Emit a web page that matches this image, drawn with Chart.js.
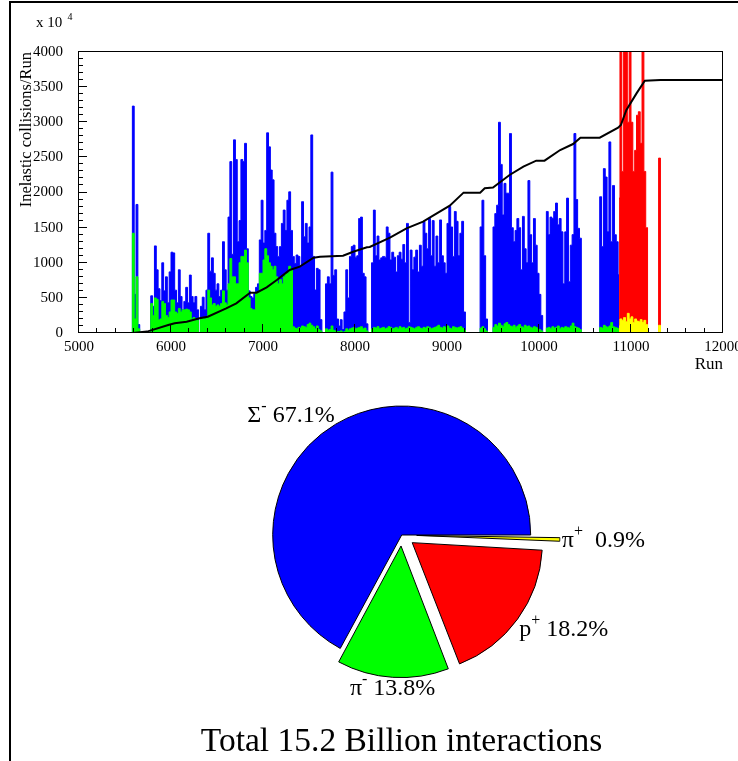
<!DOCTYPE html>
<html lang="en">
<head>
<meta charset="utf-8">
<title>Inelastic collisions per run</title>
<script src="https://cdn.jsdelivr.net/npm/chart.js"></script>
<style>
  html, body { margin: 0; padding: 0; background: #fff; }
  #page { position: relative; width: 738px; height: 761px; overflow: hidden; }
  #frame { position: absolute; left: 9px; top: 1px; width: 800px; height: 800px;
           border-top: 2px solid #000; border-left: 2px solid #000; }
  #runs { position: absolute; left: 0; top: 0; }
  #beams { position: absolute; left: 0; top: 380px; }
</style>
</head>
<body>
<div id="page">
  <div id="frame"></div>
  <canvas id="runs" width="760" height="380"></canvas>
  <canvas id="beams" width="738" height="381"></canvas>
</div>

<script>
// histogram bins are 20 runs wide
const binWidth = 20;

// Sigma- beam, first bin starts at run 5500
const sigmaStart = 5500;
const sigmaValues = [
  0, 0, 0, 0, 3230, 550, 1830, 120, 0, 0,
  0, 0, 0, 0, 530, 380, 1240, 900, 630, 460,
  1000, 600, 800, 430, 870, 1150, 1140, 610, 430, 900,
  520, 330, 450, 650, 430, 825, 520, 430, 520, 330,
  0, 380, 510, 330, 610, 1420, 880, 1070, 850, 610,
  700, 520, 610, 1300, 900, 610, 1650, 2440, 1120, 2750,
  2470, 1300, 1600, 2470, 2440, 2700, 1200, 600, 520, 500,
  560, 650, 700, 1325, 1890, 1280, 1460, 2850, 2650, 2320,
  2180, 1420, 1230, 1090, 1230, 1560, 1750, 1460, 1890, 2010,
  1460, 1090, 990, 1110, 1090, 940, 1870, 1370, 1560, 1280,
  1510, 2820, 1090, 612, 920, 900, 190, 0, 0, 700,
  800, 700, 2290, 820, 900, 200, 100, 190, 50, 300,
  900, 500, 1090, 1230, 1250, 1080, 1100, 1630, 1650, 850,
  800, 130, 0, 0, 1000, 1750, 1100, 1380, 1040, 1070,
  1090, 1080, 1510, 1420, 1040, 1150, 1080, 870, 1100, 1150,
  1050, 1260, 1000, 1560, 150, 1180, 900, 1080, 1180, 870,
  1250, 950, 1590, 1420, 1200, 1630, 1100, 1600, 950, 1380,
  1000, 1610, 1100, 1000, 850, 1560, 1800, 1510, 1090, 1730,
  1590, 1100, 1420, 1590, 300, 0, 0, 0, 0, 0,
  0, 0, 0, 1510, 1890, 1100, 200, 0, 0, 0,
  1510, 1700, 1820, 3000, 2400, 1680, 2130, 1990, 1990, 2840,
  1500, 1300, 1460, 1630, 1500, 900, 1660, 1200, 1000, 2170,
  1400, 1000, 1630, 1250, 850, 550, 250, 0, 0, 1730,
  1400, 1650, 1630, 1730, 1850, 1540, 1630, 1440, 700, 1440,
  1920, 730, 1250, 1400, 2840, 1900, 1490, 1350, 0, 0,
  0, 0, 0, 0, 0, 0, 0, 0, 1940, 1230,
  2340, 2220, 1440, 2720, 1300, 2100, 1400, 1300, 830
];

// pi- beam, same bins as Sigma-
const piMinusStart = 5500;
const piMinusValues = [
  0, 0, 0, 0, 1420, 200, 800, 60, 0, 0,
  0, 0, 0, 0, 420, 250, 500, 480, 185, 200,
  450, 420, 250, 220, 300, 470, 470, 300, 280, 350,
  300, 330, 330, 340, 330, 300, 200, 220, 200, 180,
  0, 200, 210, 200, 230, 610, 500, 400, 420, 380,
  400, 380, 420, 600, 430, 400, 700, 1060, 800, 800,
  700, 700, 1000, 1090, 1090, 1180, 1000, 500, 350, 330,
  330, 580, 580, 850, 850, 1040, 1200, 1100, 1000, 950,
  900, 950, 800, 700, 760, 700, 800, 850, 850, 950,
  900, 90, 70, 60, 80, 70, 100, 90, 80, 120,
  140, 110, 90, 60, 100, 50, 30, 0, 0, 60,
  40, 50, 100, 40, 30, 20, 20, 30, 10, 20,
  60, 40, 60, 70, 80, 60, 70, 80, 90, 60,
  70, 30, 0, 0, 60, 80, 70, 90, 60, 70,
  80, 60, 70, 90, 80, 60, 70, 80, 60, 90,
  70, 80, 60, 70, 90, 80, 70, 60, 80, 90,
  70, 60, 80, 70, 90, 80, 60, 70, 80, 90,
  110, 80, 70, 90, 80, 100, 70, 60, 90, 80,
  70, 80, 90, 70, 40, 0, 0, 0, 0, 0,
  0, 0, 0, 70, 90, 60, 30, 0, 0, 0,
  80, 120, 100, 140, 110, 90, 130, 150, 120, 100,
  90, 110, 80, 100, 120, 90, 80, 110, 90, 100,
  80, 70, 90, 80, 60, 50, 30, 0, 0, 70,
  80, 60, 90, 70, 80, 100, 60, 80, 70, 90,
  80, 70, 100, 140, 90, 80, 70, 50, 0, 0,
  0, 0, 0, 0, 0, 0, 0, 0, 80, 70,
  110, 90, 80, 100, 150, 90, 80, 70, 60
];

// proton beam (many bins go off the top of the frame)
const protonStart = 10860;
const protonValues = [1920, 4600, 2300, 4600, 4600, 3000, 4600, 3000, 2300, 2600, 3100, 3150,
                      2700, 4600, 2300, 1500, 0, 0, 0, 0, 0, 0, 2490, 0];

// pi+ beam
const piPlusStart = 10860;
const piPlusValues = [100, 200, 180, 220, 160, 280, 200, 230, 150, 200, 170, 160,
                      190, 150, 180, 120, 0, 0, 0, 0, 0, 0, 110, 0];

// running total
const totalRuns = [5000, 5580, 5740, 5970, 6040, 6170, 6310, 6400, 6600, 6710, 6860, 6930,
                   7040, 7150, 7290, 7400, 7550, 7620, 7870, 7980, 8130, 8160, 8380, 8560,
                   8740, 8830, 9030, 9180, 9360, 9410, 9500, 9680, 9830, 9970, 10060, 10230,
                   10370, 10450, 10660, 10860, 10890, 10950, 11060, 11150, 11320, 12000];
const totalValues = [0, 0, 20, 114, 138, 161, 209, 232, 351, 422, 574, 574,
                     650, 754, 897, 944, 1072, 1086, 1100, 1157, 1220, 1225, 1357, 1490,
                     1585, 1656, 1813, 1998, 1998, 2060, 2070, 2249, 2368, 2453, 2453, 2605,
                     2690, 2780, 2780, 2922, 2960, 3174, 3411, 3591, 3601, 3601];

// pie
const beamNames = ['π', 'p', 'π', 'Σ'];
const beamCharges = ['+', '+', '-', '-'];
const beamShares = [0.9, 18.2, 13.8, 67.1];
const beamGaps = ['  ', ' ', ' ', ' '];

const serif = "'Liberation Serif', 'Times New Roman', serif";
Chart.defaults.font.family = serif;
Chart.defaults.color = '#000';

function binPoints(start, values) {
  return values.map((v, i) => ({x: start + (i + 0.5) * binWidth, y: v}));
}

function histo(values, start, color, order) {
  return {
    data: binPoints(start, values),
    borderColor: color,
    backgroundColor: color,
    borderWidth: 1,
    pointRadius: 0,
    stepped: 'middle',
    fill: 'origin',
    order: order
  };
}

const runsDecor = {
  id: 'runsDecor',
  afterDatasetsDraw(chart) {
    const {ctx, chartArea: a, scales: {x, y}} = chart;
    ctx.save();
    ctx.strokeStyle = '#000';
    ctx.lineWidth = 1;
    ctx.beginPath();
    for (let v = 5000; v <= 12000; v += 200) {
      const px = Math.round(x.getPixelForValue(v)) - 0.5;
      const len = v % 1000 === 0 ? 9 : 5;
      ctx.moveTo(px, a.bottom);
      ctx.lineTo(px, a.bottom - len);
    }
    for (let v = 0; v <= 4000; v += 100) {
      const py = Math.round(y.getPixelForValue(v)) - 0.5;
      const len = v % 500 === 0 ? 8 : 4;
      ctx.moveTo(a.left, py);
      ctx.lineTo(a.left + len, py);
    }
    ctx.stroke();
    ctx.strokeRect(a.left - 0.5, a.top - 0.5, a.right - a.left, a.bottom - a.top);

    ctx.fillStyle = '#000';
    ctx.textBaseline = 'alphabetic';
    ctx.textAlign = 'left';
    ctx.font = '15px ' + serif;
    ctx.fillText('x 10', 36, 27);
    ctx.font = '10px ' + serif;
    ctx.fillText('4', 67.5, 19.5);

    ctx.textAlign = 'right';
    ctx.font = '17px ' + serif;
    ctx.fillText('Run', a.right, 369);

    ctx.translate(31, a.top);
    ctx.rotate(-Math.PI / 2);
    ctx.font = '16.5px ' + serif;
    ctx.fillText('Inelastic collisions/Run', 0, 0);
    ctx.restore();
  }
};

new Chart(document.getElementById('runs'), {
  type: 'line',
  data: {
    datasets: [
      {
        data: totalRuns.map((r, i) => ({x: r, y: totalValues[i]})),
        borderColor: '#000',
        borderWidth: 2,
        pointRadius: 0,
        fill: false,
        tension: 0,
        order: 0
      },
      histo(piPlusValues, piPlusStart, '#ffff00', 1),
      histo(protonValues, protonStart, '#ff0000', 2),
      histo(piMinusValues, piMinusStart, '#00ff00', 3),
      histo(sigmaValues, sigmaStart, '#0000ff', 4)
    ]
  },
  options: {
    responsive: false,
    animation: false,
    events: [],
    layout: {padding: {top: 52, right: 37, bottom: 17, left: 0}},
    plugins: {legend: {display: false}, tooltip: {enabled: false}},
    scales: {
      x: {
        type: 'linear',
        min: 5000,
        max: 12000,
        grid: {display: false, drawTicks: false},
        border: {display: false},
        ticks: {stepSize: 1000, padding: 5, font: {size: 15}, callback: v => String(v)},
        afterFit(scale) { scale.height = 30; }
      },
      y: {
        min: 0,
        max: 4000,
        grid: {display: false, drawTicks: false},
        border: {display: false},
        ticks: {stepSize: 500, padding: 16, font: {size: 15}, callback: v => String(v)},
        afterFit(scale) { scale.width = 79; }
      }
    }
  },
  plugins: [runsDecor]
});

const beamLabels = {
  id: 'beamLabels',
  afterDatasetsDraw(chart) {
    const {ctx} = chart;
    const arcs = chart.getDatasetMeta(0).data;
    const size = 24;
    const big = size + 'px ' + serif, small = '16px ' + serif;
    ctx.save();
    ctx.fillStyle = '#000';
    ctx.textBaseline = 'alphabetic';
    ctx.textAlign = 'left';
    arcs.forEach((arc, i) => {
      const p = arc.getProps(['x', 'y', 'startAngle', 'endAngle', 'outerRadius', 'circumference'], true);
      const mid = (p.startAngle + p.endAngle) / 2;
      const shift = (arc.options.offset || 0) / 4;
      const grow = shift * (1 - Math.sin(Math.min(Math.PI, p.circumference)));
      const r = shift + p.outerRadius + grow + 2;
      const cos = Math.cos(mid), sin = Math.sin(mid);
      const ax = p.x + cos * r, ay = p.y + sin * r;
      const head = beamNames[i], sup = beamCharges[i];
      const tail = beamGaps[i] + beamShares[i].toFixed(1) + '%';
      ctx.font = big;
      const w1 = ctx.measureText(head).width, w3 = ctx.measureText(tail).width;
      ctx.font = small;
      const w2 = ctx.measureText(sup).width;
      const w = w1 + w2 + w3;
      const left = cos > 0.25 ? ax : (cos < -0.25 ? ax - w : ax - w / 2);
      const cap = size * 0.66;
      const base = sin > 0.25 ? ay + cap : (sin < -0.25 ? ay : ay + cap / 2);
      ctx.font = big;
      ctx.fillText(head, left, base);
      ctx.fillText(tail, left + w1 + w2, base);
      ctx.font = small;
      ctx.fillText(sup, left + w1, base - 11);
    });
    ctx.textAlign = 'center';
    ctx.font = '33.5px ' + serif;
    ctx.fillText('Total 15.2 Billion interactions', 401.5, 370.7);
    ctx.restore();
  }
};

new Chart(document.getElementById('beams'), {
  type: 'pie',
  data: {
    labels: beamNames.map((n, i) => n + beamCharges[i]),
    datasets: [{
      data: beamShares,
      backgroundColor: ['#ffff00', '#ff0000', '#00ff00', '#0000ff'],
      borderColor: '#000',
      borderWidth: 1,
      offset: [60, 52, 44, 0]
    }]
  },
  options: {
    responsive: false,
    animation: false,
    events: [],
    rotation: 90,
    radius: 129,
    layout: {padding: {left: 70, right: 4.6, top: 10, bottom: 81}},
    plugins: {legend: {display: false}, tooltip: {enabled: false}}
  },
  plugins: [beamLabels]
});
</script>
</body>
</html>
